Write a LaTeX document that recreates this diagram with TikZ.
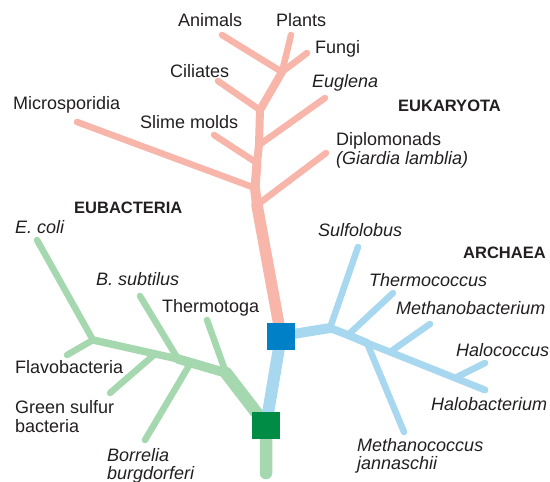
\documentclass[tikz,border=0pt]{standalone}
\usepackage{fontspec}
\setmainfont{Liberation Sans}
\definecolor{eukpink}{RGB}{248,181,170}
\definecolor{bacgreen}{RGB}{166,216,176}
\definecolor{arcblue}{RGB}{168,215,240}
\definecolor{rootblue}{RGB}{0,128,198}
\definecolor{rootgreen}{RGB}{0,140,68}
\definecolor{ink}{RGB}{35,31,32}
\tikzset{
  lbl/.style={anchor=base west, inner sep=0pt, text=ink, align=left, font=\fontsize{18}{18.5}\selectfont},
  ilbl/.style={lbl, font=\fontsize{18}{18.5}\selectfont\itshape},
  grp/.style={lbl, font=\fontsize{16.5}{18.5}\selectfont\bfseries},
  twig/.style={line width=6.5pt},
  rootbox/.style={minimum width=28pt, minimum height=27pt, inner sep=0pt}
}
\begin{document}
\begin{tikzpicture}[x=1pt, y=-1pt, line cap=round, line join=round]
\useasboundingbox (0,0) rectangle (550,482);
\foreach \px/\py/\n in {222/35/ani, 291/35/pla, 307/53/fun, 282/72/jA, 218/81/cil, 260/110/jC, 325/98/eug, 259/145/jE, 214/135/sli, 257/163/jS, 77/122/mic, 255/188/jM, 326/153/dip, 257/205/jD, 281/336/broot}
  \coordinate (\n) at (\px,\py);
\foreach \px/\py/\n in {37/240/eco, 67/355/fla, 93/340/gE, 140/296/bsu, 110/393/gsb, 155/354/gG, 178/359/gB, 145/440/bor, 190/364/gR, 207/320/tht, 226/373/gT, 266/425/groot, 266/473/gbase}
  \coordinate (\n) at (\px,\py);
\foreach \px/\py/\n in {358/247/sul, 330/328/aJ, 393/293/thc, 348/335/aT, 404/432/mja, 367/343/aM, 430/324/mba, 390/352/aB, 485/363/hcc, 455/378/aH, 485/390/hba}
  \coordinate (\n) at (\px,\py);
\foreach \a/\b in {ani/jA, pla/jA, fun/jA, cil/jC, eug/jE, sli/jS, mic/jM, dip/jD}
  \draw[twig, eukpink] (\a) -- (\b);
\draw[eukpink, line width=8pt] (jA) -- (jC) -- (jE) -- (jS);
\draw[eukpink, line width=9pt] (jS) -- (jM);
\draw[eukpink, line width=10pt] (jM) -- (jD);
\draw[eukpink, line width=11.5pt] (jD) -- (broot);
\foreach \a/\b in {eco/gE, fla/gE, bsu/gB, gsb/gG, bor/gR, tht/gT}
  \draw[twig, bacgreen] (\a) -- (\b);
\draw[bacgreen, line width=7.5pt] (gE) -- (gB);
\draw[bacgreen, line width=9.5pt] (gB) -- (gT);
\draw[bacgreen, line width=12.5pt] (gT) -- (groot) -- (gbase);
\foreach \a/\b in {sul/aJ, thc/aT, mja/aM, mba/aB, hcc/aH}
  \draw[twig, arcblue] (\a) -- (\b);
\draw[arcblue, line width=12pt] (groot) -- (broot);
\draw[arcblue, line width=10pt] (broot) -- (aJ);
\draw[arcblue, line width=8pt] (aJ) -- (aT) -- (aM);
\draw[arcblue, line width=7pt] (aM) -- (aB) -- (aH) -- (hba);
\node[rootbox, fill=rootblue] (bsq) at (broot) {};
\node[rootbox, fill=rootgreen] (gsq) at (groot) {};
\node[lbl] (animals) at (178,26) {Animals};
\node[lbl] (plants) at (276,26) {Plants};
\node[lbl] (fungi) at (315,53.5) {Fungi};
\node[lbl] (ciliates) at (170,77) {Ciliates};
\node[ilbl] (euglena) at (312,87.5) {Euglena};
\node[lbl] (micro) at (13,109) {Microsporidia};
\node[lbl] (slime) at (140,128.5) {Slime molds};
\node[grp] (euk) at (398,111) {EUKARYOTA};
\node[lbl] (diplo) at (336,164) {Diplomonads\\\textit{(Giardia lamblia)}};
\node[grp] (eubac) at (74,213.5) {EUBACTERIA};
\node[ilbl] (ecoli) at (15,233.5) {E. coli};
\node[ilbl] (bsub) at (96,285.5) {B. subtilus};
\node[lbl] (thermotoga) at (162,312.5) {Thermotoga};
\node[lbl] (flavo) at (15,373.5) {Flavobacteria};
\node[lbl] (green) at (15,432) {Green sulfur\\bacteria};
\node[ilbl] (borrelia) at (107,479.5) {Borrelia\\burgdorferi};
\node[ilbl] (sulfo) at (318,236.5) {Sulfolobus};
\node[grp] (arch) at (463,258.5) {ARCHAEA};
\node[ilbl] (thermoc) at (369,286) {Thermococcus};
\node[ilbl] (methbac) at (396,314.5) {Methanobacterium};
\node[ilbl] (halococ) at (456,356) {Halococcus};
\node[ilbl] (halobac) at (431,410.5) {Halobacterium};
\node[ilbl] (methcoc) at (357,469.5) {Methanococcus\\jannaschii};
\end{tikzpicture}
\end{document}
